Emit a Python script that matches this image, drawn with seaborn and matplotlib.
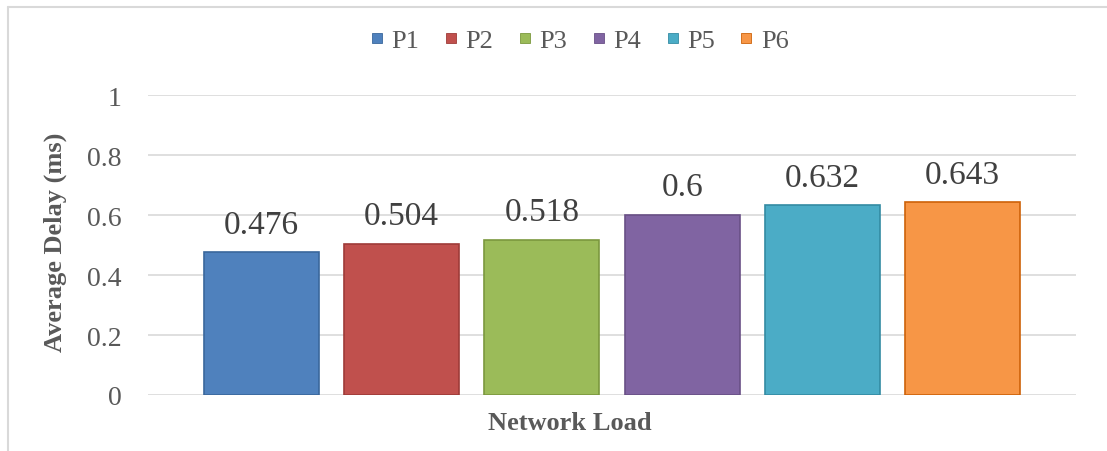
import matplotlib
matplotlib.use("Agg")
import matplotlib.pyplot as plt
import seaborn as sns
import pandas as pd
from matplotlib.lines import Line2D

series = ["P1", "P2", "P3", "P4", "P5", "P6"]
delays = [0.476, 0.504, 0.518, 0.6, 0.632, 0.643]
category = ["Network Load"] * len(series)
colors = ["#4F81BD", "#C0504D", "#9BBB59", "#8064A2", "#4BACC6", "#F79646"]
yticks = [0, 0.2, 0.4, 0.6, 0.8, 1]

df = pd.DataFrame({"load": category, "series": series, "delay": delays})

sns.set_style("white")
plt.rcParams["font.family"] = ["Liberation Serif", "DejaVu Serif"]

W, H = 1107, 452
fig = plt.figure(figsize=(W / 100, H / 100), dpi=100)
ax = fig.add_axes([148 / W, 1 - 396 / H, 928 / W, 300 / H])

sns.barplot(data=df, x="load", y="delay", hue="series", palette=colors,
            saturation=1, width=0.907, gap=0.18, ax=ax, legend=False,
            edgecolor="none", linewidth=0)

# darker outline for a slightly embossed look
for bar, c in zip(ax.patches, colors):
    bar.set_edgecolor(sns.utils.set_hls_values(c, l=0.42))
    bar.set_linewidth(1.2)

ax.set_ylim(0, 1)
ax.set_yticks(yticks)
ax.set_yticklabels([f"{t:g}" for t in yticks])
ax.tick_params(axis="y", length=0, pad=19, labelsize=20, labelcolor="#595959")
ax.tick_params(axis="x", length=0, labelbottom=False)
ax.yaxis.grid(True, color="#D9D9D9", linewidth=1.2)
ax.set_axisbelow(True)
for s in ax.spines.values():
    s.set_visible(False)

for container in ax.containers:
    ax.bar_label(container, labels=[f"{v:g}" for v in container.datavalues],
                 padding=9, fontsize=24, color="#404040")

ax.set_xlabel("Network Load", fontsize=19, fontweight="bold", color="#595959")
ax.xaxis.set_label_coords((570 - 148) / 928, -(424 - 396) / 300)
ax.xaxis.label.set_va("center")
ax.set_ylabel("Average Delay (ms)", fontsize=19, fontweight="bold", color="#595959")
ax.yaxis.set_label_coords(-(148 - 55) / 928, 0.5 + (396 - 242 - 150) / 300)
ax.yaxis.label.set_va("center")

# square legend keys
handles = [Line2D([], [], marker="s", linestyle="", markersize=6.5,
                  markerfacecolor=c, markeredgecolor=sns.utils.set_hls_values(c, l=0.42),
                  markeredgewidth=0.6)
           for c in colors]
ax.legend(handles, series, loc="center",
          bbox_to_anchor=((580 - 148) / 928, 1 + (96 - 41) / 300), ncol=6,
          frameon=False, fontsize=19, handlelength=0.4,
          handletextpad=0.35, columnspacing=1.0, labelcolor="#595959",
          borderaxespad=0)

# chart frame: top and left edges
frame_kw = dict(transform=fig.transFigure, color="#D9D9D9", linewidth=1.5)
fig.add_artist(Line2D([8 / W, 1], [1 - 8 / H, 1 - 8 / H], **frame_kw))
fig.add_artist(Line2D([8 / W, 8 / W], [0, 1 - 8 / H], **frame_kw))

fig.savefig("out.png", dpi=100)
